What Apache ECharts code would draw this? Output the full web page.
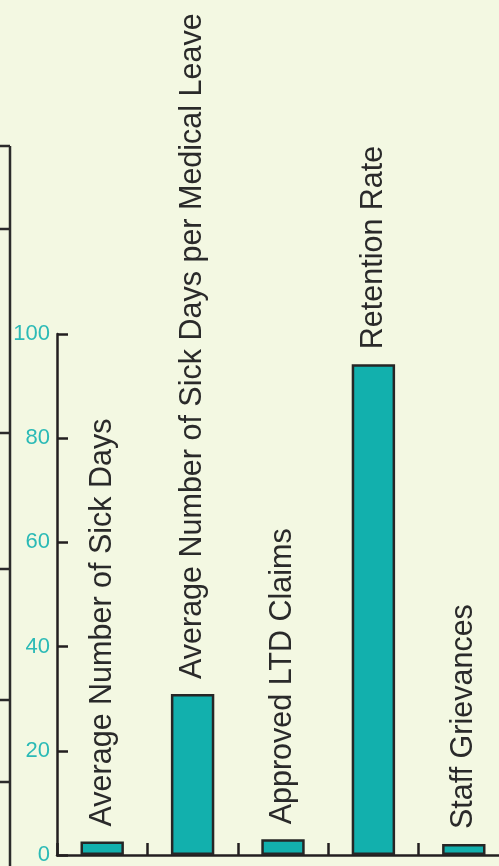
<!DOCTYPE html>
<html>
<head>
<meta charset="utf-8">
<script src="https://cdn.jsdelivr.net/npm/echarts@6/dist/echarts.min.js"></script>
<style>
html,body{margin:0;padding:0;background:#f3f8e2;overflow:hidden;width:499px;height:866px;}
#chart{width:509px;height:866px;}
</style>
</head>
<body>
<div id="chart"></div>
<script>
var categories = ['Average Number of Sick Days', 'Average Number of Sick Days per Medical Leave', 'Approved LTD Claims', 'Retention Rate', 'Staff Grievances'];
var values = [2.6, 30.9, 3.0, 94.2, 2.1];
var yTicks = [0, 20, 40, 60, 80, 100];
var leftAxisTickY = [146, 229, 433, 569, 700, 782];

var chart = echarts.init(document.getElementById('chart'), null, {renderer: 'canvas'});
var graphics = [{
  type: 'line', shape: {x1: 10, y1: 146, x2: 10, y2: 866},
  style: {stroke: '#2b2b2b', lineWidth: 2.5}
}];
leftAxisTickY.forEach(function (y) {
  graphics.push({type: 'line', shape: {x1: 0, y1: y, x2: 10, y2: y}, style: {stroke: '#2b2b2b', lineWidth: 2.5}});
});

chart.setOption({
  backgroundColor: '#f3f8e2',
  animation: false,
  grid: {left: 57, right: 0, top: 334, bottom: 11, containLabel: false},
  graphic: graphics,
  xAxis: {
    type: 'category',
    data: categories,
    axisLine: {lineStyle: {color: '#231f20', width: 2.5}},
    axisTick: {show: true, inside: true, interval: 0, length: 12, lineStyle: {color: '#231f20', width: 2.5}},
    axisLabel: {show: false, interval: 0},
    splitLine: {show: false}
  },
  yAxis: {
    type: 'value',
    min: yTicks[0],
    max: yTicks[yTicks.length - 1],
    interval: 20,
    axisLine: {show: true, lineStyle: {color: '#231f20', width: 2.5}},
    axisTick: {show: true, inside: true, length: 11, lineStyle: {color: '#231f20', width: 2.5}},
    axisLabel: {color: '#2bbab6', fontSize: 22, fontFamily: 'Liberation Sans', margin: 7},
    splitLine: {show: false}
  },
  series: [{
    type: 'bar',
    data: values,
    barWidth: '48%',
    itemStyle: {color: '#12b0ad', borderColor: '#262626', borderWidth: 2.5},
    label: {
      show: true,
      position: 'top',
      rotate: 90,
      align: 'left',
      verticalAlign: 'middle',
      distance: 15,
      overflow: 'none',
      formatter: function (p) { return p.name; },
      color: '#2a2a2a',
      fontSize: 30.5,
      fontFamily: 'Liberation Sans'
    }
  }]
});
</script>
</body>
</html>
